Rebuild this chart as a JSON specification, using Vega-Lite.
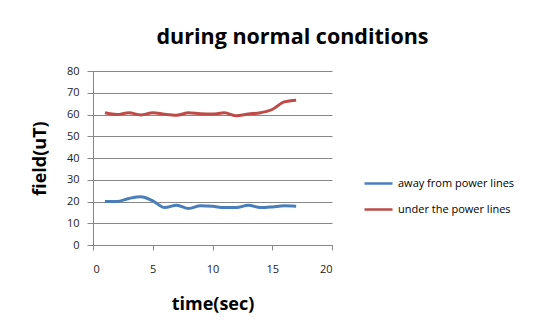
{
  "$schema": "https://vega.github.io/schema/vega-lite/v6.json",
  "width": 239,
  "height": 174,
  "autosize": {"type": "none"},
  "padding": {"left": 93, "top": 71, "right": 215, "bottom": 88},
  "background": "white",
  "title": {
    "text": "during normal conditions",
    "font": "Open Sans",
    "fontSize": 21.5,
    "fontWeight": "bold",
    "color": "#000000",
    "anchor": "middle",
    "dx": 80,
    "offset": 17
  },
  "data": {
    "values": [
      {"t": 1, "v": 20.0, "s": "away from power lines"},
      {"t": 2, "v": 20.0, "s": "away from power lines"},
      {"t": 3, "v": 21.4, "s": "away from power lines"},
      {"t": 4, "v": 22.2, "s": "away from power lines"},
      {"t": 5, "v": 20.3, "s": "away from power lines"},
      {"t": 6, "v": 17.2, "s": "away from power lines"},
      {"t": 7, "v": 18.3, "s": "away from power lines"},
      {"t": 8, "v": 16.8, "s": "away from power lines"},
      {"t": 9, "v": 18.0, "s": "away from power lines"},
      {"t": 10, "v": 17.8, "s": "away from power lines"},
      {"t": 11, "v": 17.2, "s": "away from power lines"},
      {"t": 12, "v": 17.2, "s": "away from power lines"},
      {"t": 13, "v": 18.3, "s": "away from power lines"},
      {"t": 14, "v": 17.2, "s": "away from power lines"},
      {"t": 15, "v": 17.5, "s": "away from power lines"},
      {"t": 16, "v": 18.0, "s": "away from power lines"},
      {"t": 17, "v": 17.8, "s": "away from power lines"},
      {"t": 1, "v": 60.8, "s": "under the power lines"},
      {"t": 2, "v": 60.0, "s": "under the power lines"},
      {"t": 3, "v": 60.8, "s": "under the power lines"},
      {"t": 4, "v": 59.8, "s": "under the power lines"},
      {"t": 5, "v": 60.8, "s": "under the power lines"},
      {"t": 6, "v": 60.1, "s": "under the power lines"},
      {"t": 7, "v": 59.7, "s": "under the power lines"},
      {"t": 8, "v": 60.8, "s": "under the power lines"},
      {"t": 9, "v": 60.3, "s": "under the power lines"},
      {"t": 10, "v": 60.2, "s": "under the power lines"},
      {"t": 11, "v": 60.8, "s": "under the power lines"},
      {"t": 12, "v": 59.4, "s": "under the power lines"},
      {"t": 13, "v": 60.2, "s": "under the power lines"},
      {"t": 14, "v": 60.8, "s": "under the power lines"},
      {"t": 15, "v": 62.3, "s": "under the power lines"},
      {"t": 16, "v": 65.8, "s": "under the power lines"},
      {"t": 17, "v": 66.6, "s": "under the power lines"}
    ]
  },
  "mark": {"type": "line", "interpolate": "monotone", "strokeWidth": 3},
  "encoding": {
    "x": {
      "field": "t",
      "type": "quantitative",
      "scale": {"domain": [0, 20], "nice": false},
      "axis": {
        "title": "time(sec)",
        "values": [0, 5, 10, 15, 20],
        "grid": false,
        "domainColor": "#878787",
        "tickColor": "#878787",
        "tickSize": 5,
        "labelFont": "Open Sans",
        "labelFontSize": 11,
        "labelColor": "#222222",
        "labelPadding": 13,
        "titleFont": "Open Sans",
        "titleFontSize": 18,
        "titleFontWeight": "bold",
        "titleColor": "#000000",
        "titlePadding": 21
      }
    },
    "y": {
      "field": "v",
      "type": "quantitative",
      "scale": {"domain": [0, 80], "nice": false},
      "axis": {
        "title": "field(uT)",
        "values": [0, 10, 20, 30, 40, 50, 60, 70, 80],
        "grid": true,
        "gridColor": "#878787",
        "gridWidth": 1,
        "domainColor": "#878787",
        "tickColor": "#878787",
        "tickSize": 6,
        "labelFont": "Open Sans",
        "labelFontSize": 11,
        "labelColor": "#222222",
        "labelPadding": 8,
        "titleFont": "Open Sans",
        "titleFontSize": 18,
        "titleFontWeight": "bold",
        "titleColor": "#000000",
        "titlePadding": 17
      }
    },
    "color": {
      "field": "s",
      "type": "nominal",
      "scale": {
        "domain": ["away from power lines", "under the power lines"],
        "range": ["#4a7ebb", "#be4b48"]
      },
      "legend": {
        "title": null,
        "orient": "none",
        "legendX": 270,
        "legendY": 97,
        "symbolType": "stroke",
        "symbolSize": 784,
        "symbolStrokeWidth": 2.5,
        "labelFont": "Open Sans",
        "labelFontSize": 11,
        "labelColor": "#000000",
        "labelOffset": 4,
        "rowPadding": 5
      }
    }
  },
  "config": {
    "view": {"stroke": null}
  }
}
